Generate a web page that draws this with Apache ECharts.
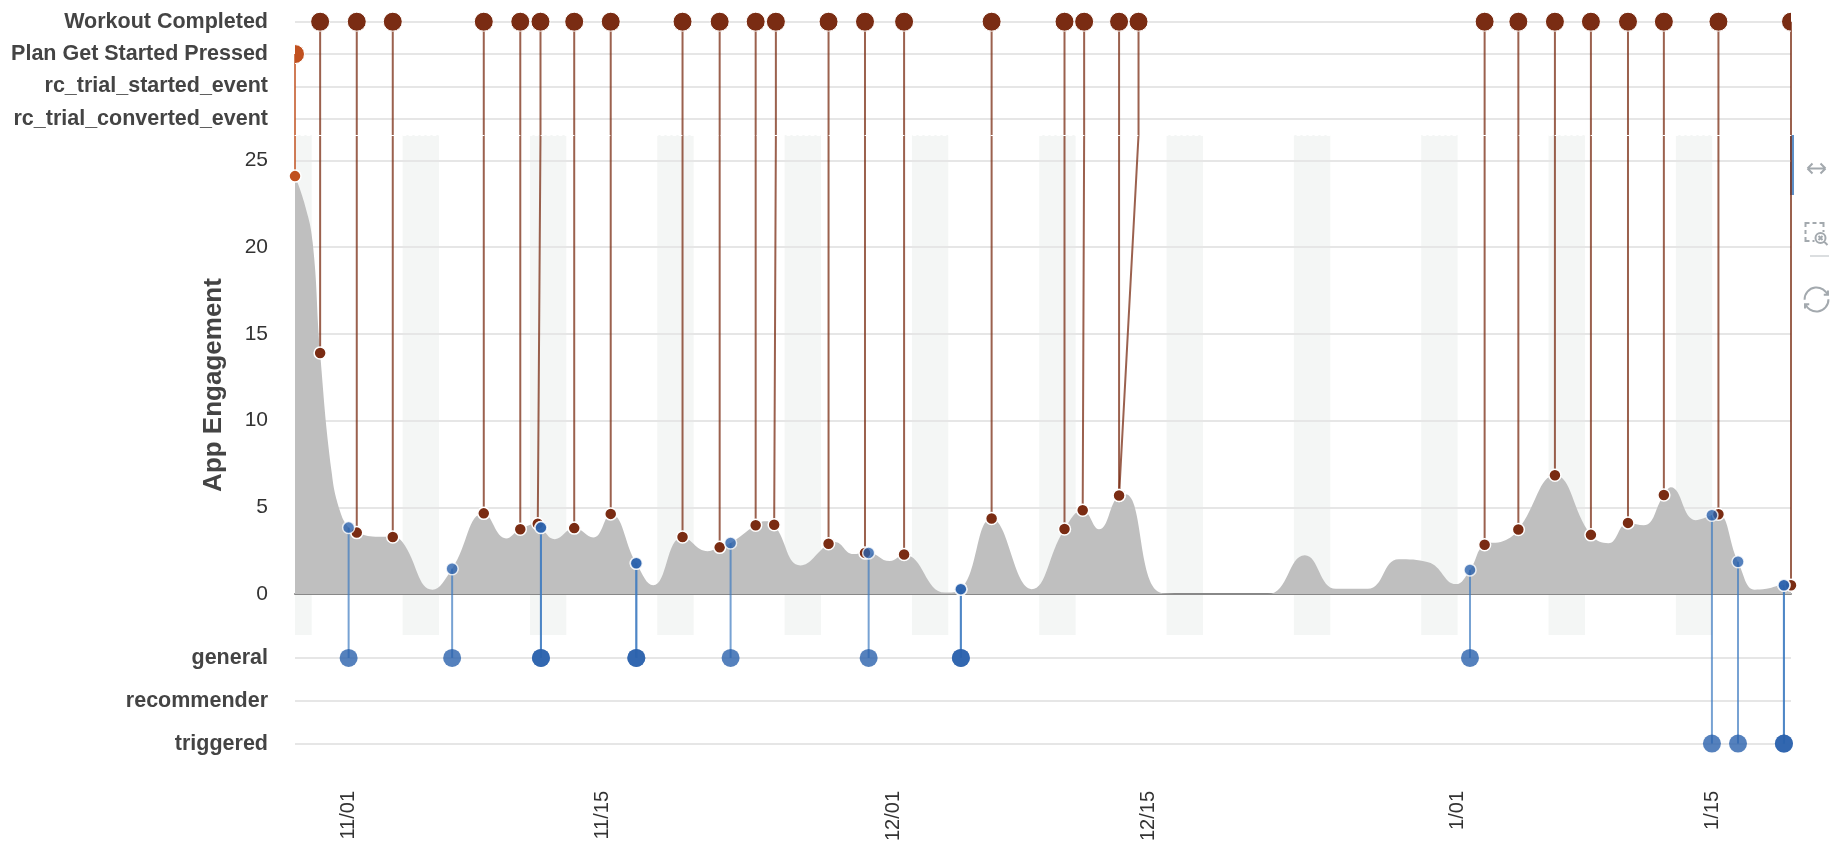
<!DOCTYPE html>
<html>
<head>
<meta charset="utf-8">
<script src="https://cdn.jsdelivr.net/npm/echarts@6/dist/echarts.min.js"></script>
<style>
html,body{margin:0;padding:0;background:#fff;}
#chart{width:1848px;height:852px;}
</style>
</head>
<body>
<div id="chart"></div>
<script>
// ---------------- data ----------------
const topRows = ['Workout Completed', 'Plan Get Started Pressed', 'rc_trial_started_event', 'rc_trial_converted_event'];
const bottomRows = ['general', 'recommender', 'triggered'];
const xLabelDates = ['2023-11-01', '2023-11-15', '2023-12-01', '2023-12-15', '2024-01-01', '2024-01-15'];
const yTicks = [0, 5, 10, 15, 20, 25];
const xRange = ['2023-10-29 02:00', '2024-01-19 07:55'];

// engagement curve [time, value]
const engagement = [
  ['2023-10-29 02:00', 24.1], ['2023-10-29 14:00', 22.6], ['2023-10-30 01:15', 20.3],
  ['2023-10-30 11:10', 13.9], ['2023-10-31 02:25', 7.0], ['2023-10-31 13:15', 4.8],
  ['2023-11-01 00:45', 3.83], ['2023-11-01 11:30', 3.54], ['2023-11-02 12:00', 3.3],
  ['2023-11-03 11:00', 3.29], ['2023-11-03 23:45', 3.0], ['2023-11-05 15:20', 0.25],
  ['2023-11-06 17:20', 1.46], ['2023-11-08 11:05', 4.65], ['2023-11-09 16:30', 3.2],
  ['2023-11-10 11:15', 3.73], ['2023-11-11 10:20', 4.05], ['2023-11-11 14:30', 3.83],
  ['2023-11-12 08:50', 3.16], ['2023-11-13 10:25', 3.8], ['2023-11-14 11:30', 3.26],
  ['2023-11-15 10:35', 4.62], ['2023-11-16 20:20', 1.77], ['2023-11-17 18:40', 0.5],
  ['2023-11-19 09:20', 3.29], ['2023-11-20 18:30', 2.47], ['2023-11-21 10:20', 2.69],
  ['2023-11-22 00:45', 2.94], ['2023-11-23 09:50', 3.96], ['2023-11-23 22:05', 4.2],
  ['2023-11-24 10:15', 3.99], ['2023-11-25 20:50', 1.65], ['2023-11-27 10:00', 2.9],
  ['2023-11-27 18:00', 3.0], ['2023-11-28 18:40', 2.3], ['2023-11-29 10:05', 2.37],
  ['2023-11-29 14:55', 2.37], ['2023-11-30 18:40', 1.9], ['2023-12-01 13:40', 2.28],
  ['2023-12-03 19:25', 0.08], ['2023-12-04 16:35', 0.28], ['2023-12-06 09:10', 4.35],
  ['2023-12-08 14:00', 0.28], ['2023-12-10 09:20', 3.75], ['2023-12-11 09:20', 4.83],
  ['2023-12-12 06:45', 3.73], ['2023-12-13 09:20', 5.68], ['2023-12-13 17:45', 5.75],
  ['2023-12-15 18:30', 0.05], ['2023-12-18 00:00', 0], ['2023-12-21 13:30', 0],
  ['2023-12-23 14:25', 2.24], ['2023-12-25 07:25', 0.3], ['2023-12-27 01:40', 0.3],
  ['2023-12-28 18:15', 2.0], ['2023-12-30 09:10', 1.83], ['2023-12-31 21:35', 0.57],
  ['2024-01-01 16:20', 1.39], ['2024-01-02 11:40', 2.84], ['2024-01-03 12:30', 3.05],
  ['2024-01-04 08:10', 3.72], ['2024-01-06 08:25', 6.85], ['2024-01-08 07:55', 3.41],
  ['2024-01-09 07:00', 2.93], ['2024-01-10 08:50', 4.1], ['2024-01-11 05:35', 3.97],
  ['2024-01-12 08:10', 5.71], ['2024-01-12 17:20', 6.15], ['2024-01-14 02:00', 4.26],
  ['2024-01-14 23:35', 4.54], ['2024-01-15 08:10', 4.6], ['2024-01-16 10:00', 1.86],
  ['2024-01-17 08:10', 0.25], ['2024-01-17 23:30', 0.3], ['2024-01-18 22:35', 0.5],
  ['2024-01-19 07:55', 0.5]
];

// [event time, matched curve time, curve value]
const planEvents = [
  ['2023-10-29 02:00', '2023-10-29 02:00', 24.1]
];
const workoutEvents = [
  ['2023-10-30 11:10', '2023-10-30 11:10', 13.9],
  ['2023-11-01 11:30', '2023-11-01 11:30', 3.54],
  ['2023-11-03 11:00', '2023-11-03 11:00', 3.29],
  ['2023-11-08 11:05', '2023-11-08 11:05', 4.65],
  ['2023-11-10 11:15', '2023-11-10 11:15', 3.73],
  ['2023-11-11 13:55', '2023-11-11 10:20', 4.05],
  ['2023-11-13 10:25', '2023-11-13 10:25', 3.8],
  ['2023-11-15 10:35', '2023-11-15 10:35', 4.62],
  ['2023-11-19 09:20', '2023-11-19 09:20', 3.29],
  ['2023-11-21 10:20', '2023-11-21 10:20', 2.69],
  ['2023-11-23 09:50', '2023-11-23 09:50', 3.96],
  ['2023-11-24 12:30', '2023-11-24 10:15', 3.99],
  ['2023-11-27 10:00', '2023-11-27 10:00', 2.9],
  ['2023-11-29 10:05', '2023-11-29 10:05', 2.37],
  ['2023-12-01 13:40', '2023-12-01 13:40', 2.28],
  ['2023-12-06 09:10', '2023-12-06 09:10', 4.35],
  ['2023-12-10 09:20', '2023-12-10 09:20', 3.75],
  ['2023-12-11 11:15', '2023-12-11 09:20', 4.83],
  ['2023-12-13 09:20', '2023-12-13 09:20', 5.68],
  ['2023-12-14 11:00', '2023-12-13 09:20', 5.68],
  ['2024-01-02 11:40', '2024-01-02 11:40', 2.84],
  ['2024-01-04 08:10', '2024-01-04 08:10', 3.72],
  ['2024-01-06 08:25', '2024-01-06 08:25', 6.85],
  ['2024-01-08 07:55', '2024-01-08 07:55', 3.41],
  ['2024-01-10 08:50', '2024-01-10 08:50', 4.1],
  ['2024-01-12 08:10', '2024-01-12 08:10', 5.71],
  ['2024-01-15 08:10', '2024-01-15 08:10', 4.6],
  ['2024-01-19 07:55', '2024-01-19 07:55', 0.5]
];

// [time, curve value, campaign type]
const campaignEvents = [
  ['2023-11-01 00:45', 3.83, 'general'],
  ['2023-11-06 17:20', 1.46, 'general'],
  ['2023-11-11 14:30', 3.83, 'general'],
  ['2023-11-11 14:30', 3.83, 'general'],
  ['2023-11-16 20:20', 1.77, 'general'],
  ['2023-11-16 20:20', 1.77, 'general'],
  ['2023-11-22 00:45', 2.94, 'general'],
  ['2023-11-29 14:55', 2.37, 'general'],
  ['2023-12-04 16:35', 0.28, 'general'],
  ['2023-12-04 16:35', 0.28, 'general'],
  ['2024-01-01 16:20', 1.39, 'general'],
  ['2024-01-14 23:35', 4.54, 'triggered'],
  ['2024-01-16 10:00', 1.86, 'triggered'],
  ['2024-01-18 22:35', 0.5, 'triggered'],
  ['2024-01-18 22:35', 0.5, 'triggered']
];

// weekend bands [start, end]
const weekends = [
  ['2023-10-28', '2023-10-30'], ['2023-11-04', '2023-11-06'], ['2023-11-11', '2023-11-13'],
  ['2023-11-18', '2023-11-20'], ['2023-11-25', '2023-11-27'], ['2023-12-02', '2023-12-04'],
  ['2023-12-09', '2023-12-11'], ['2023-12-16', '2023-12-18'], ['2023-12-23', '2023-12-25'],
  ['2023-12-30', '2024-01-01'], ['2024-01-06', '2024-01-08'], ['2024-01-13', '2024-01-15']
];

// ---------------- helpers ----------------
function ts(s) {
  const iso = s.length === 10 ? s + 'T00:00:00' : s.replace(' ', 'T') + ':00';
  return new Date(iso).getTime();
}
function pad(n) { return (n < 10 ? '0' : '') + n; }

const X_MIN = ts(xRange[0]);
const X_MAX = ts(xRange[1]);

const BROWN = '#7a2c13';
const ORANGE = '#c0501f';
const BLUE = '#2a62ad';
const ICON = '#a3a9ae';
const FONT = "'Liberation Sans', Arial, Helvetica, sans-serif";

const ICON_ARROWS = 'path://M0,0 M24,24 M3,12 H21 M3,12 L8,7 M3,12 L8,17 M21,12 L16,7 M21,12 L16,17';
const ICON_ZOOM_RESET = 'path://M0,0 M24,24 M1,5 V1 H5 M8,1 H12 M15,1 H19 V5 M1,8 V12 M1,15 V19 H5 M8,19 H10 M19,8 V10 ' +
  'M21,16 A5,5 0 1 1 11,16 A5,5 0 1 1 21,16 M14,14 L18,18 M18,14 L14,18 M19.6,19.6 L23,23';

const chart = echarts.init(document.getElementById('chart'), null, { renderer: 'canvas' });

function xAxisBase(gridIndex) {
  return {
    type: 'value', gridIndex: gridIndex, min: X_MIN, max: X_MAX, scale: true,
    axisLine: { show: false }, axisTick: { show: false }, axisLabel: { show: false },
    splitLine: { show: false }
  };
}

function safePix(finder, v) {
  try { const r = chart.convertToPixel(finder, v); return (r == null || isNaN(r)) ? null : r; } catch (e) { return null; }
}

function markerSeries(data, color, gridIndex, r, z) {
  return {
    type: 'custom', xAxisIndex: gridIndex, yAxisIndex: gridIndex, z: z, clip: true, silent: true,
    data: data, encode: { x: 0, y: 1 },
    renderItem: function (params, api) {
      const p = api.coord([api.value(0), api.value(1)]);
      return {
        type: 'circle', shape: { cx: p[0], cy: p[1], r: r },
        style: { fill: color, stroke: '#fff', lineWidth: 1 }
      };
    }
  };
}

const option = {
  animation: false,
  textStyle: { fontFamily: FONT },
  toolbox: {
    orient: 'vertical', right: 17, top: 154, itemSize: 24, itemGap: 36.5, padding: 0,
    iconStyle: { borderColor: ICON, borderWidth: 2 },
    feature: {
      dataZoom: { yAxisIndex: 'none', icon: { zoom: ICON_ARROWS, back: ICON_ZOOM_RESET } },
      restore: {}
    }
  },
  grid: [
    { left: 295, right: 57, top: 5.5, height: 129.5 },    // events
    { left: 295, right: 57, top: 160.5, height: 433.5 },  // engagement
    { left: 295, right: 57, top: 636.5, height: 128.5 },  // campaigns
    { left: 295, right: 57, top: 135, height: 500 }       // weekend shading
  ],
  xAxis: [
    Object.assign(xAxisBase(0), { z: 10, axisLine: { show: true, onZero: false, lineStyle: { color: '#fff', width: 1, type: [3, 3] } } }),
    Object.assign(xAxisBase(1), { axisLine: { show: true, onZero: true, lineStyle: { color: '#888', width: 2 } } }),
    Object.assign(xAxisBase(2), {
      axisLabel: {
        show: true, rotate: 90, margin: 26, fontSize: 20, color: '#333',
        customValues: xLabelDates.map(ts),
        formatter: function (v) { const d = new Date(v); return (d.getMonth() + 1) + '/' + pad(d.getDate()); }
      }
    }),
    xAxisBase(3)
  ],
  yAxis: [
    {
      type: 'category', gridIndex: 0, data: topRows, inverse: true, boundaryGap: true,
      axisLine: { show: false }, axisTick: { show: false },
      axisLabel: { margin: 27, fontSize: 21.5, fontWeight: 'bold', color: '#444' },
      splitLine: { show: true, alignWithLabel: true, lineStyle: { color: '#e6e6e6', width: 2 } }
    },
    {
      type: 'value', gridIndex: 1, min: yTicks[0], max: yTicks[yTicks.length - 1], interval: yTicks[1] - yTicks[0],
      axisLine: { show: false }, axisTick: { show: false },
      axisLabel: { margin: 27, fontSize: 21, color: '#333' },
      splitLine: { show: true, lineStyle: { color: '#e6e6e6', width: 2 } }
    },
    {
      type: 'category', gridIndex: 2, data: bottomRows, inverse: true, boundaryGap: true,
      axisLine: { show: false }, axisTick: { show: false },
      axisLabel: { margin: 27, fontSize: 21.5, fontWeight: 'bold', color: '#444' },
      splitLine: { show: true, alignWithLabel: true, lineStyle: { color: '#e6e6e6', width: 2 } }
    },
    {
      type: 'value', gridIndex: 3, min: 0, max: 1,
      name: 'App Engagement', nameLocation: 'middle', nameGap: 68,
      nameTextStyle: { fontSize: 26, fontWeight: 'bold', color: '#444' },
      axisLine: { show: false }, axisTick: { show: false }, axisLabel: { show: false },
      splitLine: { show: false }
    }
  ],
  graphic: [
    { type: 'rect', left: 1790, top: 135, shape: { width: 4, height: 60 }, style: { fill: '#5b8ec6' } },
    { type: 'line', shape: { x1: 1810, y1: 256, x2: 1829, y2: 256 }, style: { stroke: '#cfd3d6', lineWidth: 1.5 } }
  ],
  series: [
    // weekend shading
    {
      type: 'custom', xAxisIndex: 3, yAxisIndex: 3, z: -1, silent: true,
      data: weekends.map(w => [Math.max(ts(w[0]), X_MIN), ts(w[1])]),
      encode: { x: [0, 1] },
      renderItem: function (params, api) {
        const p0 = api.coord([api.value(0), 1]);
        const p1 = api.coord([api.value(1), 0]);
        return { type: 'rect', shape: { x: p0[0], y: p0[1], width: p1[0] - p0[0], height: p1[1] - p0[1] }, style: { fill: '#f4f6f5' } };
      }
    },
    // engagement area
    {
      type: 'line', xAxisIndex: 1, yAxisIndex: 1, z: 2, smooth: 0.45, symbol: 'none', silent: true,
      data: engagement.map(d => [ts(d[0]), d[1]]),
      lineStyle: { width: 0 }, areaStyle: { color: '#bfbfbf', opacity: 1 }
    },
    // event connectors (brown / orange)
    {
      type: 'custom', xAxisIndex: 1, yAxisIndex: 1, z: 3, silent: true,
      data: workoutEvents.map(e => [ts(e[0]), ts(e[1]), e[2], 0])
        .concat(planEvents.map(e => [ts(e[0]), ts(e[1]), e[2], 1])),
      encode: { x: [0, 1], y: 2 },
      renderItem: function (params, api) {
        const row = api.value(3);
        const rowY = safePix({ yAxisIndex: 0 }, row);
        const topY = safePix({ yAxisIndex: 3 }, 1);
        if (rowY == null || topY == null) return null;
        const pt = api.coord([api.value(1), api.value(2)]);
        const ex = api.coord([api.value(0), api.value(2)])[0];
        return {
          type: 'polyline',
          shape: { points: [[ex, rowY], [ex, topY], pt] },
          style: { stroke: row === 1 ? ORANGE : BROWN, lineWidth: 2, opacity: 0.75, fill: null }
        };
      }
    },
    // campaign connectors (blue)
    {
      type: 'custom', xAxisIndex: 1, yAxisIndex: 1, z: 3, silent: true,
      data: campaignEvents.map(e => [ts(e[0]), e[1], bottomRows.indexOf(e[2])]),
      encode: { x: 0, y: 1 },
      renderItem: function (params, api) {
        const rowY = safePix({ yAxisIndex: 2 }, api.value(2));
        if (rowY == null) return null;
        const pt = api.coord([api.value(0), api.value(1)]);
        return {
          type: 'line',
          shape: { x1: pt[0], y1: pt[1], x2: pt[0], y2: rowY },
          style: { stroke: '#3d7ac0', lineWidth: 2, opacity: 0.7 }
        };
      }
    },
    // curve dots
    {
      type: 'scatter', xAxisIndex: 1, yAxisIndex: 1, z: 5, symbolSize: 12, silent: true,
      data: workoutEvents.map(e => [ts(e[1]), e[2]]),
      itemStyle: { color: BROWN, borderColor: '#fff', borderWidth: 1.5, opacity: 1 }
    },
    {
      type: 'scatter', xAxisIndex: 1, yAxisIndex: 1, z: 5, symbolSize: 12, silent: true,
      data: planEvents.map(e => [ts(e[1]), e[2]]),
      itemStyle: { color: ORANGE, borderColor: '#fff', borderWidth: 1.5, opacity: 1 }
    },
    {
      type: 'scatter', xAxisIndex: 1, yAxisIndex: 1, z: 6, symbolSize: 12, silent: true,
      data: campaignEvents.map(e => [ts(e[0]), e[1]]),
      itemStyle: { color: BLUE, borderColor: '#fff', borderWidth: 1.5, opacity: 0.8 }
    },
    // top event markers (clipped to the events grid)
    markerSeries(workoutEvents.map(e => [ts(e[0]), 0]), BROWN, 0, 9.5, 5),
    markerSeries(planEvents.map(e => [ts(e[0]), 1]), ORANGE, 0, 9.5, 5),
    // bottom campaign markers
    {
      type: 'scatter', xAxisIndex: 2, yAxisIndex: 2, z: 5, symbolSize: 18, silent: true,
      data: campaignEvents.map(e => [ts(e[0]), e[2]]),
      itemStyle: { color: BLUE, opacity: 0.8 }
    }
  ]
};

chart.setOption(option);
chart.setOption(option);
</script>
</body>
</html>
